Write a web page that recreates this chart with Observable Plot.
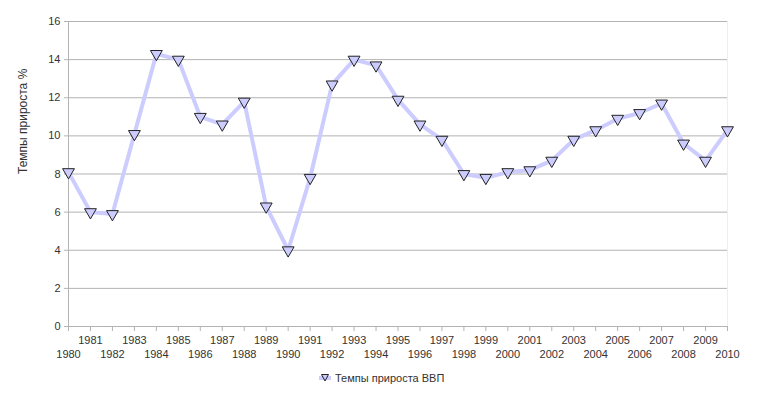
<!DOCTYPE html>
<html><head><meta charset="utf-8">
<script src="https://cdn.jsdelivr.net/npm/d3@7"></script>
<script src="https://cdn.jsdelivr.net/npm/@observablehq/plot@0.6"></script>
<style>
body{margin:0;background:#fff;font-family:"Liberation Sans",Arial,sans-serif;}
#legend{position:absolute;left:318px;top:371px;font-size:11px;color:#333;display:flex;align-items:center;}
</style></head><body>
<div id="chart"></div>
<div id="legend"><svg width="14" height="14"><line x1="1" x2="13" y1="7" y2="7" stroke="#ccccff" stroke-width="4"/><path d="M3.5,3.5 L10.5,3.5 L7,10 Z" fill="#ccccff" stroke="#222" stroke-width="1"/></svg><span style="margin-left:3px">Темпы прироста ВВП</span></div>
<script>
const years = d3.range(1980, 2011);
const growth = [8.1, 6.0, 5.9, 10.1, 14.3, 14.0, 11.0, 10.6, 11.8, 6.3, 4.0, 7.8, 12.7, 14.0, 13.7, 11.9, 10.6, 9.8, 8.0, 7.8, 8.1, 8.2, 8.7, 9.8, 10.3, 10.9, 11.2, 11.7, 9.6, 8.7, 10.3];
const yTicks = [0, 2, 4, 6, 8, 10, 12, 14, 16];
const oddYears = years.filter(y => y % 2 === 1);
const evenYears = years.filter(y => y % 2 === 0);
const yLabel = "Темпы прироста %";

const data = years.map((y, i) => ({year: y, value: growth[i]}));

const chart = Plot.plot({
  width: 764,
  height: 372,
  marginTop: 21,
  marginBottom: 46,
  marginLeft: 68,
  marginRight: 37,
  style: {fontFamily: "Liberation Sans, Arial, sans-serif", fontSize: "11px", color: "#333", background: "#fff"},
  x: {domain: [1980, 2010]},
  y: {domain: [0, 16]},
  marks: [
    Plot.gridY(yTicks, {stroke: "#b3b3b3", strokeOpacity: 1, strokeWidth: 1}),
    Plot.ruleX([2010], {stroke: "#eeeeee"}),
    Plot.ruleX([1980], {stroke: "#b3b3b3"}),
    Plot.ruleY([0], {stroke: "#b3b3b3"}),
    Plot.axisY({ticks: yTicks, tickSize: 4, tickPadding: 4, stroke: "#b3b3b3", label: null, fill: "#333"}),
    Plot.axisX({ticks: years, tickSize: 5, tickFormat: () => "", stroke: "#b3b3b3", label: null}),
    Plot.axisX({ticks: oddYears, tickSize: 0, tickPadding: 10, tickFormat: d => String(d), label: null, fill: "#333"}),
    Plot.axisX({ticks: evenYears, tickSize: 0, tickPadding: 24, tickFormat: d => String(d), label: null, fill: "#333"}),
    Plot.text([yLabel], {frameAnchor: "left", dx: -45, rotate: -90, fontSize: 12, fill: "#333"}),
    Plot.line(data, {x: "year", y: "value", stroke: "#ccccff", strokeWidth: 4, strokeLinejoin: "round"}),
    Plot.dot(data, {x: "year", y: "value", symbol: "triangle", rotate: 180, r: 4.4, fill: "#ccccff", stroke: "#222", strokeWidth: 1})
  ]
});
document.getElementById("chart").appendChild(chart);
</script>
</body></html>
